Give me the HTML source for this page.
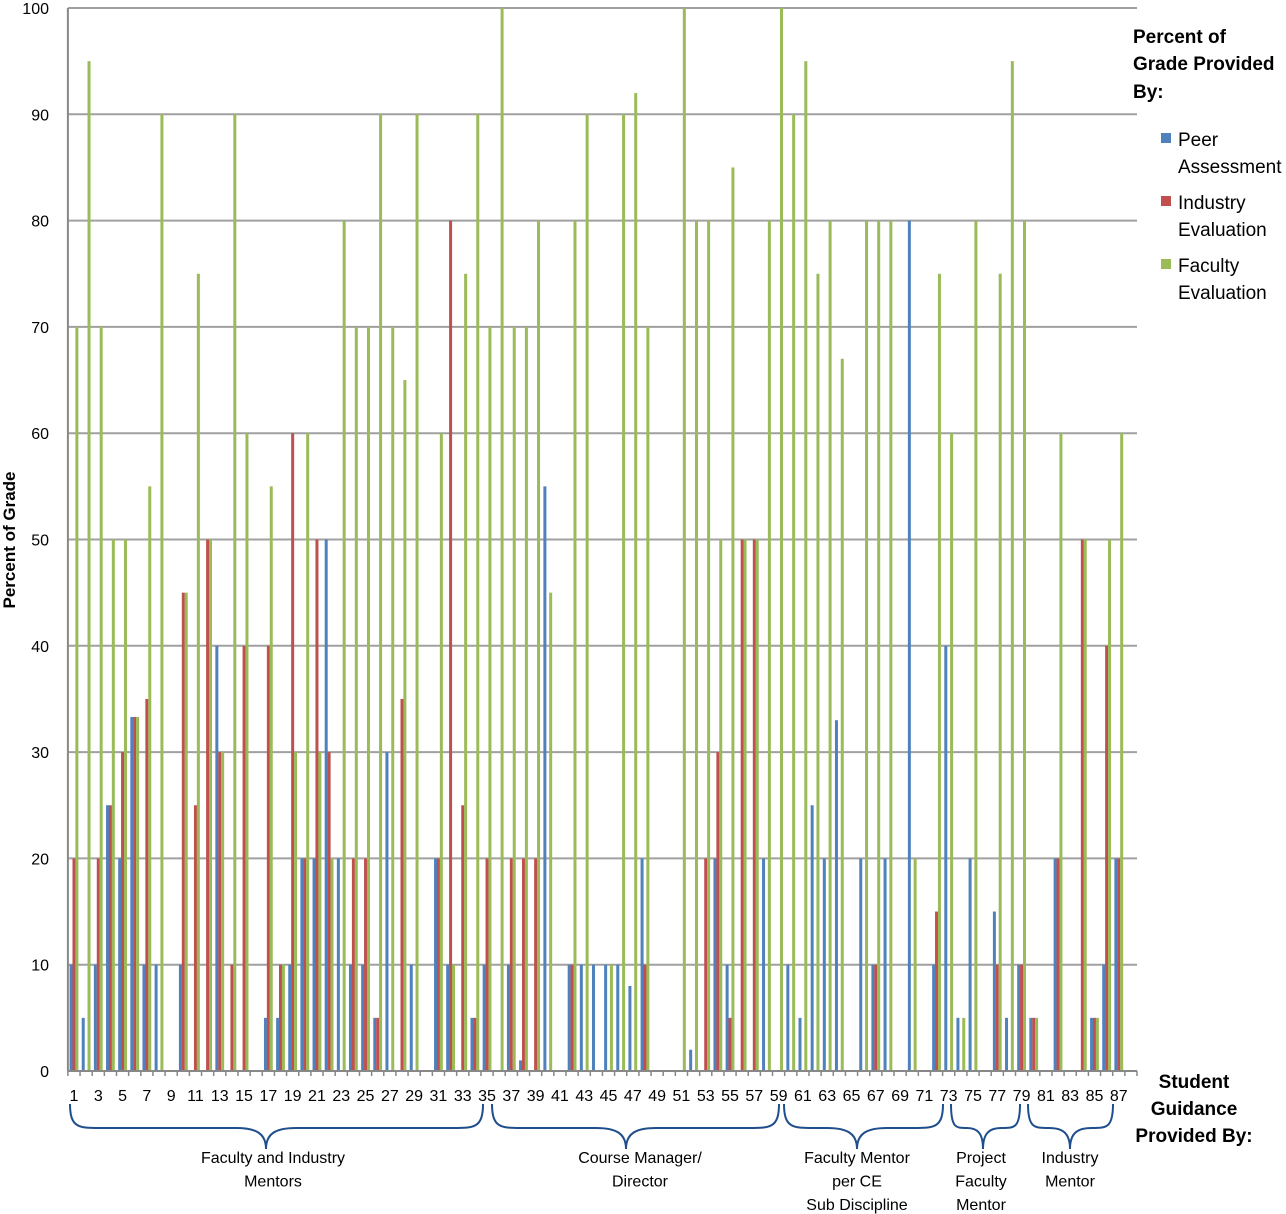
<!DOCTYPE html>
<html><head><meta charset="utf-8">
<style>
html,body{margin:0;padding:0;background:#fff;}
svg{display:block;font-family:"Liberation Sans",Arial,sans-serif;}
</style></head>
<body>
<svg id="chart" width="1286" height="1214" viewBox="0 0 1286 1214" xmlns="http://www.w3.org/2000/svg">
<g id="grid"></g>
<g id="bars"></g>
<g id="axes"></g>
<text transform="translate(15,540) rotate(-90)" text-anchor="middle" font-size="17" font-weight="bold">Percent of Grade</text>
<g font-size="19">
  <text x="1133" y="43" font-weight="bold">Percent of</text>
  <text x="1133" y="70" font-weight="bold">Grade Provided</text>
  <text x="1133" y="98" font-weight="bold">By:</text>
  <g><rect x="1161" y="133" width="10" height="10" fill="#4f81bd"/><text x="1178" y="146">Peer</text><text x="1178" y="173">Assessment</text></g>
  <g><rect x="1161" y="196" width="10" height="10" fill="#c0504d"/><text x="1178" y="209">Industry</text><text x="1178" y="236">Evaluation</text></g>
  <g><rect x="1161" y="259" width="10" height="10" fill="#9bbb59"/><text x="1178" y="272">Faculty</text><text x="1178" y="299">Evaluation</text></g>
</g>
<g font-size="19" font-weight="bold" text-anchor="middle">
  <text x="1194" y="1088">Student</text><text x="1194" y="1115">Guidance</text><text x="1194" y="1142">Provided By:</text>
</g>
<g id="braces"></g>
</svg>
<script>
const categories = Array.from({length: 87}, (_, i) => String(i + 1));
const peer = [10,5,10,25,20,33.3,10,10,0,10, 0,0,40,0,0,0,5,5,10,20, 20,50,20,10,10,5,30,0,10,0,
  20,10,0,5,10,0,10,1,0,55, 0,10,10,10,10,10,8,20,0,0, 0,2,0,20,10,0,0,20,0,10,
  5,25,20,33,0,20,10,20,0,80, 0,10,40,5,20,0,15,5,10,5, 0,20,0,0,5,10,20];
const industry = [20,0,20,25,30,33.3,35,0,0,45, 25,50,30,10,40,0,40,10,60,20, 50,30,0,20,20,5,0,35,0,0,
  20,80,25,5,20,0,20,20,20,0, 0,10,0,0,0,0,0,10,0,0, 0,0,20,30,5,50,50,0,0,0,
  0,0,0,0,0,0,10,0,0,0, 0,15,0,0,0,0,10,0,10,5, 0,20,0,50,5,40,20];
const faculty = [70,95,70,50,50,33.3,55,90,0,45, 75,50,30,90,60,0,55,10,30,60, 30,20,80,70,70,90,70,65,90,0,
  60,10,75,90,70,100,70,70,80,45, 0,80,90,0,10,90,92,70,0,0, 100,80,80,50,85,50,50,80,100,90,
  95,75,80,67,0,80,80,80,0,20, 0,75,60,5,80,0,75,95,80,5, 0,60,0,50,5,50,60];
const yTicks = [0,10,20,30,40,50,60,70,80,90,100];
const groupLabels = [
  ["Faculty and Industry","Mentors"],
  ["Course Manager/","Director"],
  ["Faculty Mentor","per CE","Sub Discipline"],
  ["Project","Faculty","Mentor"],
  ["Industry","Mentor"]
];
// brace geometry (layout): left, right, tip x, label center x
const braceLayout = [[70,483,266,273],[492,779,626,640],[784,943,857,857],[951,1020,983,981],[1028,1113,1070,1070]];

const NS = "http://www.w3.org/2000/svg";
const X0 = 67.9, X1 = 1137, NSLOT = 88, Y0 = 1071, Y100 = 8;
const step = (X1 - X0) / NSLOT;
const xc = i => X0 + (i + 0.5) * step;
const y = v => Y0 - (v / 100) * (Y0 - Y100);
function mk(tag, attrs, parent){const e=document.createElementNS(NS,tag);for(const k in attrs)e.setAttribute(k,attrs[k]);parent.appendChild(e);return e;}

const grid = document.getElementById('grid');
yTicks.forEach(t => {
  if (t > 0) {
    const l = mk('line',{x1:X0,x2:X1,y1:y(t),y2:y(t),stroke:'#a0a0a0','stroke-width':2},grid);
    
    
  }
  const tx = mk('text',{x:49,y:y(t)+6,'text-anchor':'end','font-size':16},grid);
  tx.textContent = t;
  
  
});

const bars = document.getElementById('bars');
const series = [[peer,'#4f81bd',-2.9],[industry,'#c0504d',0],[faculty,'#9bbb59',2.9]];
categories.forEach((c, i) => {
  series.forEach(([arr,col,off]) => {
    const v = arr[i];
    if (!v) return;
    const r = mk('rect',{x:xc(i)+off-1.5,y:y(v),width:3,height:Y0-y(v),fill:col},bars);
    
    
  });
});

const axes = document.getElementById('axes');
const al = mk('line',{x1:X0,x2:X0,y1:Y100,y2:Y0,stroke:'#888','stroke-width':2},axes);


const xl = mk('line',{x1:X0,x2:X1,y1:Y0,y2:Y0,stroke:'#888','stroke-width':2},axes);


for (let k = 0; k <= NSLOT; k++) {
  const tk = mk('line',{x1:X0+k*step,x2:X0+k*step,y1:Y0,y2:Y0+5,stroke:'#888','stroke-width':1.5},axes);
  
  
}
categories.forEach((c, i) => {
  if (i % 2 !== 0) return;
  const t = mk('text',{x:xc(i),y:1101,'text-anchor':'middle','font-size':16},axes);
  t.textContent = c;
  
  
});

const br = document.getElementById('braces');
groupLabels.forEach((lines, gi) => {
  const [a, b, m, lc] = braceLayout[gi];
  const top = 1104, mid = 1128, tip = 1149;
  const r1 = Math.min(30, (m - a) / 2), r2 = Math.min(30, (b - m) / 2);
  const d = `M${a},${top} C${a},${mid} ${a+r1*0.3},${mid} ${a+r1},${mid} L${m-r1},${mid} C${m-r1*0.3},${mid} ${m},${mid+6} ${m},${tip} C${m},${mid+6} ${m+r2*0.3},${mid} ${m+r2},${mid} L${b-r2},${mid} C${b-r2*0.3},${mid} ${b},${mid} ${b},${top}`;
  const p = mk('path',{d:d,fill:'none',stroke:'#1f4e8c','stroke-width':2},br);
  
  
  lines.forEach((ln, j) => {
    const t = mk('text',{x:lc,y:1163+j*23.5,'text-anchor':'middle','font-size':16},br);
    t.textContent = ln;
    
    
  });
});
</script>
</body></html>
